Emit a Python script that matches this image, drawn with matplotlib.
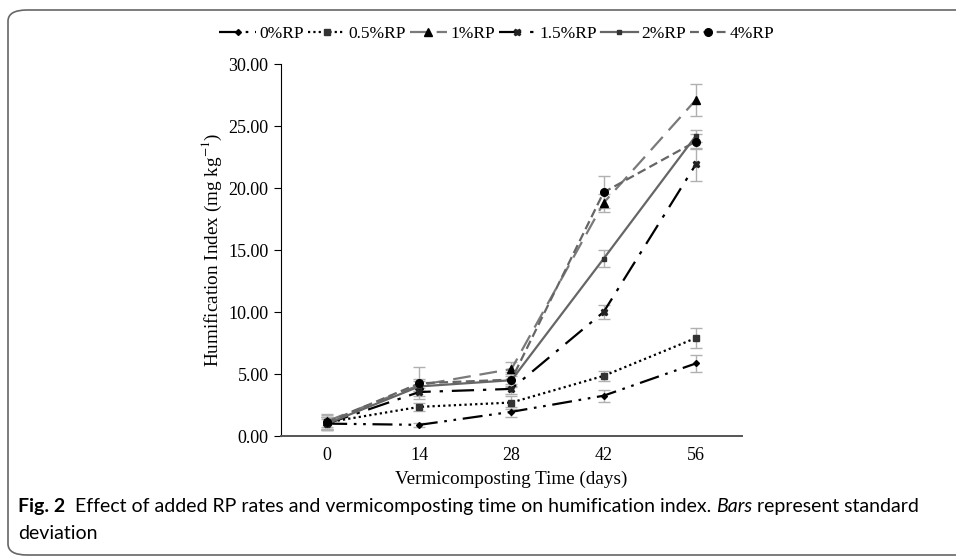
import numpy as np
import matplotlib.pyplot as plt
from matplotlib.patches import FancyBboxPatch

plt.rcParams['mathtext.fontset'] = 'stix'

days = ['0', '14', '28', '42', '56']
series = ['0%RP', '0.5%RP', '1%RP', '1.5%RP', '2%RP', '4%RP']

rp0 = [1.0, 0.9, 1.95, 3.25, 5.85]
rp05 = [1.1, 2.35, 2.7, 4.85, 7.9]
rp1 = [1.2, 4.1, 5.4, 18.8, 27.1]
rp15 = [1.0, 3.55, 3.8, 10.0, 21.9]
rp2 = [1.0, 4.0, 4.5, 14.3, 24.2]
rp4 = [1.1, 4.25, 4.55, 19.65, 23.75]

err0 = [0.5, 0.15, 0.4, 0.5, 0.7]
err05 = [0.4, 0.3, 0.5, 0.4, 0.8]
err1 = [0.6, 0.5, 0.6, 0.7, 1.3]
err15 = [0.4, 0.3, 0.4, 0.6, 1.3]
err2 = [0.5, 0.4, 0.5, 0.7, 0.5]
err4 = [0.6, 1.3, 0.6, 1.3, 0.6]

fig = plt.figure(figsize=(9.56, 5.59), dpi=100)
ax = fig.add_axes([0.294, 0.22, 0.482, 0.6655])

# rounded frame round the figure (its right side runs off the picture)
frame = FancyBboxPatch((8 / 956, 4 / 559), 1.05, 545 / 559,
                       boxstyle='round,pad=0,rounding_size=0.02',
                       transform=fig.transFigure, fill=False,
                       edgecolor='#666666', linewidth=1.2, clip_on=False)
fig.patches.append(frame)

x = np.arange(len(days))
styles = [
    (rp0, err0, 'black', (0, (9, 3, 1.2, 3, 1.2, 3)), 'D', 3, 'black'),
    (rp05, err05, 'black', (0, (1, 1.4)), 's', 4.5, '#333333'),
    (rp1, err1, '#7a7a7a', (0, (8, 4)), '^', 6, 'black'),
    (rp15, err15, 'black', (0, (10, 4, 1.5, 4)), 'X', 4.5, '#222222'),
    (rp2, err2, '#666666', '-', 's', 3.5, '#333333'),
    (rp4, err4, '#666666', (0, (4, 2)), 'o', 5.5, 'black'),
]
for name, (vals, errs, col, ls, mk, ms, mc) in zip(series, styles):
    ax.errorbar(x, vals, yerr=errs, fmt='none', ecolor='#b0b0b0',
                elinewidth=1, capsize=4, capthick=1, zorder=1)
    ax.plot(x, vals, color=col, linestyle=ls, linewidth=1.6, marker=mk,
            markersize=ms, markerfacecolor=mc, markeredgecolor=mc,
            label=name, zorder=2)

ax.set_xlim(-0.5, 4.5)
ax.set_ylim(0, 30)
ax.set_xticks(x)
ax.set_xticklabels(days)
ax.set_yticks(np.arange(0, 31, 5))
ax.set_yticklabels(['%.2f' % v for v in np.arange(0, 31, 5)])
for s in ['top', 'right']:
    ax.spines[s].set_visible(False)
ax.spines['left'].set_color('black')
ax.spines['bottom'].set_color('#555555')
ax.spines['bottom'].set_linewidth(1.4)
ax.tick_params(axis='x', length=0, pad=8, labelsize=13)
ax.tick_params(axis='y', length=5, labelsize=13, pad=4)
for lab in ax.get_xticklabels() + ax.get_yticklabels():
    lab.set_family('Liberation Serif')

ax.set_xlabel('Vermicomposting Time (days)', family='Liberation Serif',
              fontsize=13.8, labelpad=5)
ax.set_ylabel('Humification Index (mg kg$^{-1}$)', family='Liberation Serif',
              fontsize=13.8, labelpad=3)

leg = fig.legend(loc='center', bbox_to_anchor=(0.52, 0.94), ncol=6,
                 frameon=False, handlelength=2.1, handletextpad=0.2,
                 columnspacing=0.25, prop={'family': 'Liberation Serif', 'size': 12.5})

# caption, drawn piece by piece
fig.canvas.draw()
r = fig.canvas.get_renderer()
pieces = [('Fig. 2', 'bold', 'normal'),
          ('  Effect of added RP rates and vermicomposting time on humification index. ', 'normal', 'normal'),
          ('Bars', 'normal', 'italic'),
          (' represent standard', 'normal', 'normal')]
xpos = 18 / 956
ycap = 1 - 512 / 559
for txt, w, st in pieces:
    t = fig.text(xpos, ycap, txt, family='Lato', fontsize=14, weight=w,
                 style=st, va='baseline', ha='left')
    bb = t.get_window_extent(renderer=r)
    xpos += bb.width / fig.bbox.width
fig.text(18 / 956, 1 - 539 / 559, 'deviation', family='Lato', fontsize=14,
         va='baseline', ha='left')

fig.savefig('out.png', dpi=100)
